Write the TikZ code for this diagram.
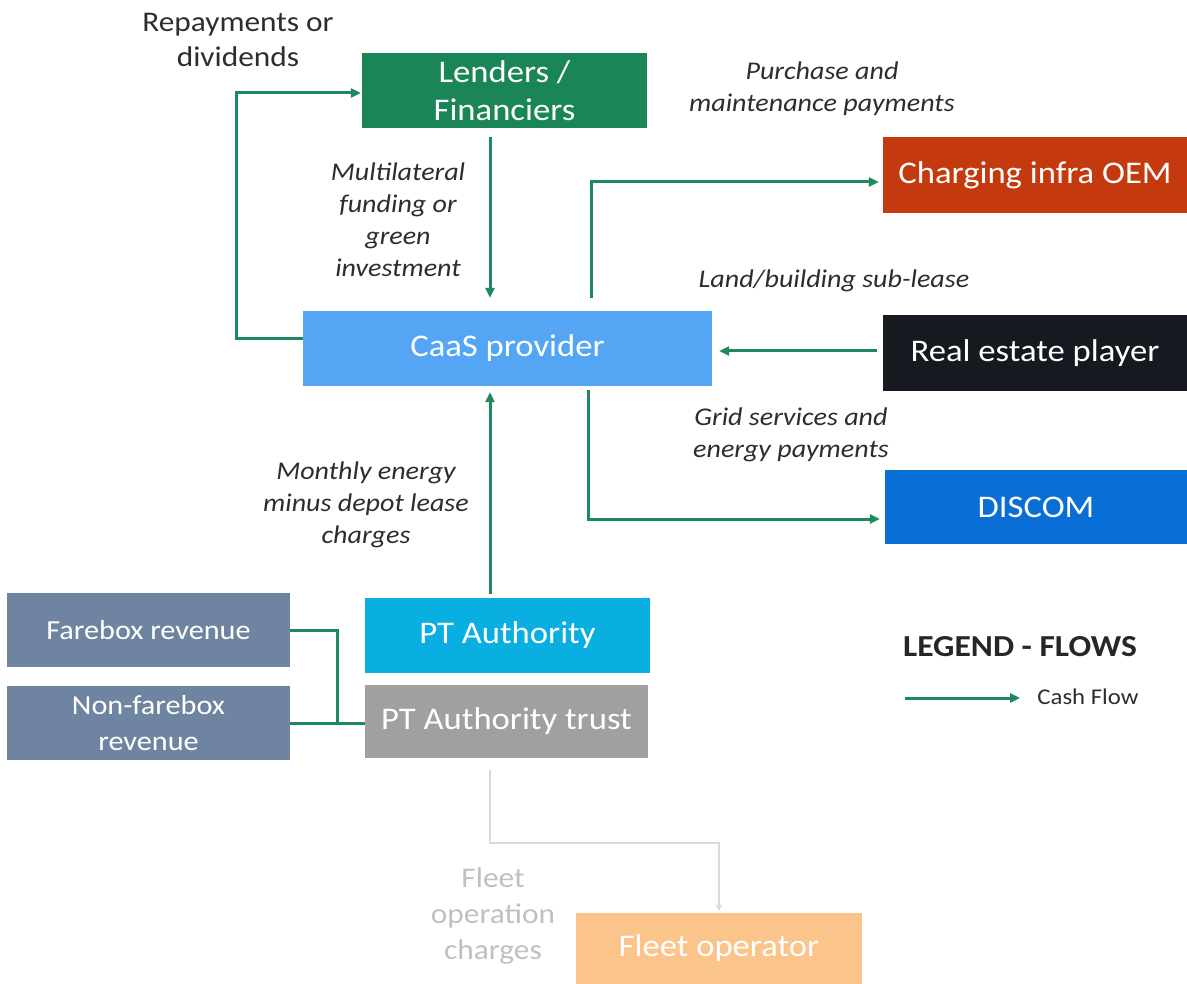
\documentclass[tikz,border=0pt]{standalone}
\usepackage{fontspec}
\setmainfont{Carlito}[FakeStretch=1.1]
\usetikzlibrary{arrows.meta}

\definecolor{cashgreen}{RGB}{30,138,92}
\definecolor{lendgreen}{RGB}{26,133,86}
\definecolor{caasblue}{RGB}{84,166,245}
\definecolor{oemred}{RGB}{196,58,14}
\definecolor{realblack}{RGB}{22,25,32}
\definecolor{discomblue}{RGB}{10,110,215}
\definecolor{ptcyan}{RGB}{10,175,225}
\definecolor{trustgrey}{RGB}{160,160,163}
\definecolor{revslate}{RGB}{110,132,160}
\definecolor{fleetorange}{RGB}{250,196,138}
\definecolor{faintgrey}{RGB}{218,218,218}
\definecolor{fainttext}{RGB}{192,192,192}
\definecolor{labeltext}{RGB}{45,45,45}

\begin{document}
\begin{tikzpicture}[x=1pt,y=-1pt,
  entity/.style={draw=none, inner sep=0pt, align=center, text=white,
    font=\fontsize{31.5}{38}\selectfont},
  flowlabel/.style={inner sep=0pt, align=center, text=labeltext,
    font=\fontsize{25.5}{32}\selectfont\itshape},
  cash/.style={draw=cashgreen, line width=3pt, -{Triangle[length=10pt,width=9pt]}},
  link/.style={draw=cashgreen, line width=3pt},
  faint/.style={draw=faintgrey, line width=1.5pt, -{Triangle[length=6pt,width=6pt]}}
]
\useasboundingbox (0,0) rectangle (1187,984);
\fill[white] (0,0) rectangle (1187,984);

% Parties
\node[entity, fill=lendgreen, minimum width=285pt, minimum height=75pt] (lenders) at (504.5,90.5) {Lenders /\\Financiers};
\node[entity, fill=caasblue, minimum width=409pt, minimum height=75pt] (caas) at (507.5,348.5) {CaaS provider};
\node[entity, fill=oemred, minimum width=304pt, minimum height=76pt] (oem) at (1035,175) {Charging infra OEM};
\node[entity, fill=realblack, minimum width=304pt, minimum height=76pt] (realestate) at (1035,353) {Real estate player};
\node[entity, fill=discomblue, minimum width=302pt, minimum height=74pt] (discom) at (1036,507) {DISCOM};
\node[entity, fill=ptcyan, minimum width=285pt, minimum height=75pt] (pta) at (507.5,635.5) {PT Authority};
\node[entity, fill=trustgrey, minimum width=283pt, minimum height=73pt] (ptt) at (506.5,721.5) {PT Authority trust};
\node[entity, fill=revslate, minimum width=283pt, minimum height=74pt, font=\fontsize{27.5}{33}\selectfont] (farebox) at (148.5,630) {Farebox revenue};
\node[entity, fill=revslate, minimum width=283pt, minimum height=74pt, font=\fontsize{27.5}{36}\selectfont] (nonfarebox) at (148.5,723) {Non-farebox\\revenue};
\node[entity, fill=fleetorange, minimum width=286pt, minimum height=71pt] (fleet) at (719,948.5) {Fleet operator};

% Flow labels
\node[inner sep=0pt, align=center, text=labeltext, font=\fontsize{28.5}{35}\selectfont] (replabel) at (238,39.5) {Repayments or\\dividends};
\node[flowlabel] (fundlabel) at (398,220) {Multilateral\\funding or\\green\\investment};
\node[flowlabel] (purchlabel) at (822,89) {Purchase and\\maintenance payments};
\node[flowlabel] (landlabel) at (834,281) {Land/building sub-lease};
\node[flowlabel] (gridlabel) at (791,435) {Grid services and\\energy payments};
\node[flowlabel] (monthlabel) at (366,505) {Monthly energy\\minus depot lease\\charges};
\node[inner sep=0pt, align=center, text=fainttext, font=\fontsize{28.5}{36}\selectfont] (fleetlabel) at (493,916) {Fleet\\operation\\charges};

% Cash flows
\coordinate (repcorner) at (236,93);
\draw[cash, shorten >=1pt] ([yshift=10pt]caas.west) -| (repcorner) -- (repcorner -| lenders.west);
\draw[cash, shorten <=9pt, shorten >=13pt] ([xshift=-14.5pt]lenders.south) -- ([xshift=-17.5pt]caas.north);
\draw[cash, shorten <=13pt, shorten >=4pt] ([xshift=83.5pt]caas.north) |- ([yshift=-7pt]oem.west);
\draw[cash, shorten <=6pt, shorten >=7pt] ([yshift=2pt]realestate.west) -- ([yshift=2pt]realestate.west -| caas.east);
\draw[cash, shorten <=4pt, shorten >=5pt] ([xshift=80.5pt]caas.south) |- ([yshift=-12pt]discom.west);
\draw[cash, shorten <=4pt, shorten >=6pt] ([xshift=-17.5pt]pta.north) -- ([xshift=-17.5pt]caas.south);

% Revenue feeding the trust
\coordinate (revjoin) at (337,723);
\draw[link] (farebox.east) -| (revjoin);
\draw[link] (nonfarebox.east) -- (nonfarebox.east -| ptt.west);

% Fleet operation charges
\coordinate (fleetbend) at (490,843);
\draw[faint, shorten <=12pt, shorten >=2pt] ([xshift=-16.5pt]ptt.south) -- (fleetbend) -| (fleet.north);

% Legend
\node[inner sep=0pt, text=black!85, font=\fontsize{30.5}{36}\selectfont\bfseries] (legtitle) at (1020,647) {LEGEND - FLOWS};
\coordinate (legA) at (905,698);
\coordinate (legB) at (1020,698);
\draw[cash] (legA) -- (legB);
\node[inner sep=0pt, text=labeltext, font=\fontsize{22.5}{27}\selectfont] (legtext) at (1088,697) {Cash Flow};
\end{tikzpicture}
\end{document}
